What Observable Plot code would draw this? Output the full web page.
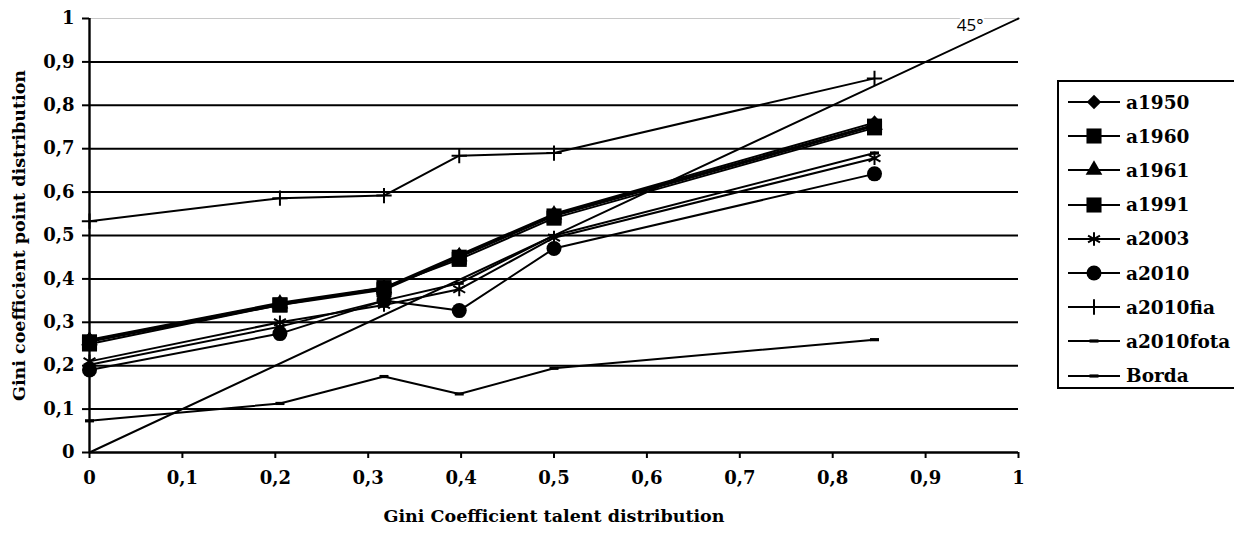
<!DOCTYPE html>
<html><head><meta charset="utf-8">
<script src="https://cdn.jsdelivr.net/npm/d3@7"></script>
<script src="https://cdn.jsdelivr.net/npm/@observablehq/plot@0.6"></script>
<style>
body{margin:0;background:#fff;width:1234px;height:534px;overflow:hidden;position:relative;}
#chart{position:absolute;left:0;top:0;}
#legend{position:absolute;left:1057px;top:80px;width:200px;height:309px;border:2px solid #000;box-sizing:border-box;background:#fff;}
.item{position:absolute;left:8px;height:24px;display:flex;align-items:center;font-family:"DejaVu Serif",serif;font-weight:bold;font-size:18.5px;color:#000;}
.item svg{margin-right:5px;}
</style></head>
<body><div id="chart"></div><div id="legend"></div>
<script>
// x positions (Gini coefficient talent distribution)
const xValues = [0, 0.205, 0.317, 0.398, 0.5, 0.845];
// series (Gini coefficient point distribution)
const seriesNames = ["a1950", "a1960", "a1961", "a1991", "a2003", "a2010", "a2010fia", "a2010fota", "Borda"];
const a1950     = [0.260, 0.345, 0.380, 0.455, 0.550, 0.760];
const a1960     = [0.255, 0.340, 0.375, 0.450, 0.545, 0.752];
const a1961     = [0.258, 0.343, 0.378, 0.452, 0.548, 0.755];
const a1991     = [0.250, 0.340, 0.380, 0.445, 0.540, 0.748];
const a2003     = [0.210, 0.300, 0.340, 0.376, 0.495, 0.678];
const a2010     = [0.190, 0.274, 0.350, 0.327, 0.470, 0.642];
const a2010fia  = [0.533, 0.586, 0.592, 0.684, 0.690, 0.862];
const a2010fota = [0.202, 0.290, 0.350, 0.390, 0.500, 0.690];
const Borda     = [0.073, 0.113, 0.175, 0.135, 0.194, 0.260];
const seriesValues = [a1950, a1960, a1961, a1991, a2003, a2010, a2010fia, a2010fota, Borda];
// axis ticks
const tickValues = [0, 0.1, 0.2, 0.3, 0.4, 0.5, 0.6, 0.7, 0.8, 0.9, 1];
const tickLabels = ["0", "0,1", "0,2", "0,3", "0,4", "0,5", "0,6", "0,7", "0,8", "0,9", "1"];
// 45 degree reference line and its label
const diagonal = [0, 1];
const diagLabel = [{x: 0.948, y: 0.984, text: "45°"}];

const dash = {draw(ctx, size) { ctx.rect(-4.5, -1.6, 9, 3.2); }};
const symbolOf = {
  a1950: {symbol: "diamond2", r: 6.5, fill: "#000", stroke: "none"},
  a1960: {symbol: "square", r: 8.5, fill: "#000", stroke: "none"},
  a1961: {symbol: "triangle", r: 6.2, fill: "#000", stroke: "none"},
  a1991: {symbol: "square", r: 8.5, fill: "#000", stroke: "none"},
  a2003: {symbol: "asterisk", r: 6.5, fill: "none", stroke: "#000"},
  a2010: {symbol: "circle", r: 7.5, fill: "#000", stroke: "none"},
  a2010fia: {symbol: "plus", r: 5, fill: "none", stroke: "#000"},
  a2010fota: {symbol: dash, r: 4, fill: "#000", stroke: "none"},
  Borda: {symbol: dash, r: 4, fill: "#000", stroke: "none"}
};

const rows = seriesNames.flatMap((name, i) => xValues.map((x, j) => ({series: name, x, y: seriesValues[i][j]})));
const diagRows = diagonal.map(v => ({x: v, y: v}));
const fmt = d => tickLabels[tickValues.indexOf(d)] ?? String(d).replace(".", ",");

const dotMarks = seriesNames.map(name => {
  const s = symbolOf[name];
  return Plot.dot(rows.filter(r => r.series === name), {
    x: "x", y: "y", symbol: s.symbol, r: s.r, fill: s.fill, stroke: s.stroke, strokeWidth: 2
  });
});

const chart = Plot.plot({
  width: 1040, height: 534,
  marginLeft: 89, marginRight: 22, marginTop: 18, marginBottom: 82,
  x: {domain: [0, 1]},
  y: {domain: [0, 1]},
  style: {fontFamily: "DejaVu Serif, serif", fontWeight: "bold", fontSize: "18px", color: "#000", background: "transparent"},
  marks: [
    Plot.ruleY(tickValues.filter(d => d > 0 && d < 1), {stroke: "#000", strokeWidth: 2}),
    Plot.ruleY([1], {stroke: "#c8c8c8", strokeWidth: 1.2}),
    Plot.axisX({ticks: tickValues, tickFormat: fmt, tickSize: 6, tickPadding: 13, strokeWidth: 2, fontSize: 18, label: null}),
    Plot.axisY({ticks: tickValues, tickFormat: fmt, tickSize: 7, tickPadding: 8, strokeWidth: 2, fontSize: 18, label: null}),
    Plot.ruleX([0], {stroke: "#000", strokeWidth: 2.4}),
    Plot.ruleY([0], {stroke: "#000", strokeWidth: 2.4}),
    Plot.line(diagRows, {x: "x", y: "y", stroke: "#000", strokeWidth: 2}),
    Plot.line(rows, {x: "x", y: "y", z: "series", stroke: "#000", strokeWidth: 2}),
    ...dotMarks,
    Plot.text(diagLabel, {x: "x", y: "y", text: "text", fontFamily: "Open Sans, sans-serif", fontWeight: "normal", fontSize: 17, fill: "#000", stroke: "#fff", strokeWidth: 5}),
    Plot.text(["Gini Coefficient talent distribution"], {frameAnchor: "bottom", dy: 69, fontSize: 17.5, fontWeight: "bold"}),
    Plot.text(["Gini coefficient point distribution"], {frameAnchor: "left", textAnchor: "middle", dx: -70, rotate: -90, fontSize: 17.5, fontWeight: "bold"})
  ]
});
document.getElementById("chart").appendChild(chart);

// legend
const legend = document.getElementById("legend");
seriesNames.forEach((name, i) => {
  const s = symbolOf[name];
  const div = document.createElement("div");
  div.className = "item";
  div.style.top = (8 + i * 34.2) + "px";
  const typ = typeof s.symbol === "string" ? {diamond2: d3.symbolDiamond2, square: d3.symbolSquare, triangle: d3.symbolTriangle, asterisk: d3.symbolAsterisk, circle: d3.symbolCircle, plus: d3.symbolPlus}[s.symbol] : s.symbol;
  const path = d3.symbol(typ, Math.PI * s.r * s.r)();
  div.innerHTML = `<svg width="54" height="24"><line x1="1" x2="53" y1="12" y2="12" stroke="#000" stroke-width="2"/><path transform="translate(27,12)" d="${path}" fill="${s.fill}" stroke="${s.stroke}" stroke-width="2"/></svg><span>${name}</span>`;
  legend.appendChild(div);
});
</script>
</body></html>
